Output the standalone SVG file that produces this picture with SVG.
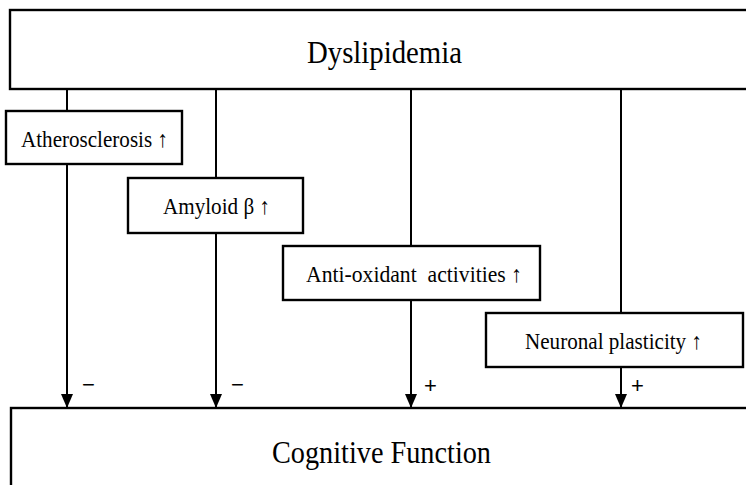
<svg xmlns="http://www.w3.org/2000/svg" width="746" height="485" viewBox="0 0 746 485">
<style>
.box{fill:#fff;stroke:#000;stroke-width:2.4}
.ln{stroke:#000;stroke-width:2;fill:none}
.big{font-family:"Liberation Serif",serif;font-size:32px;fill:#000}
.sm{font-family:"Liberation Serif","DejaVu Serif",serif;font-size:23px;fill:#000;opacity:0.99}
.sign{font-family:"Liberation Sans",sans-serif;font-size:22px;fill:#000}
</style>
<defs>
<marker id="ah" markerWidth="14" markerHeight="12" refX="14" refY="6" orient="auto" markerUnits="userSpaceOnUse" viewBox="0 0 14 12">
<path d="M0,0 L14,6 L0,12 Z" fill="#000"/>
</marker>
</defs>
<g id="dyslipidemia"><rect class="box" x="10" y="10" width="745" height="79"/><text class="big" x="307" y="63" textLength="155" lengthAdjust="spacingAndGlyphs">Dyslipidemia</text></g>
<g id="cognitive"><rect class="box" x="11" y="408" width="745" height="90"/><text class="big" x="272" y="463" textLength="219" lengthAdjust="spacingAndGlyphs">Cognitive Function</text></g>
<g id="connectors">
<line class="ln" x1="67" y1="89" x2="67" y2="111"/>
<line class="ln" x1="67" y1="164" x2="67" y2="408" marker-end="url(#ah)"/>
<line class="ln" x1="216" y1="89" x2="216" y2="178"/>
<line class="ln" x1="216" y1="233" x2="216" y2="408" marker-end="url(#ah)"/>
<line class="ln" x1="411" y1="89" x2="411" y2="246"/>
<line class="ln" x1="411" y1="300" x2="411" y2="408" marker-end="url(#ah)"/>
<line class="ln" x1="621" y1="89" x2="621" y2="313"/>
<line class="ln" x1="621" y1="367" x2="621" y2="408" marker-end="url(#ah)"/>
<text class="sign" x="82" y="392">−</text>
<text class="sign" x="231" y="392">−</text>
<text class="sign" x="424" y="393">+</text>
<text class="sign" x="631" y="393">+</text>
</g>
<g id="atherosclerosis"><rect class="box" x="6" y="111" width="176" height="53"/><text class="sm" x="21" y="147" textLength="147" lengthAdjust="spacingAndGlyphs">Atherosclerosis ↑</text></g>
<g id="amyloid"><rect class="box" x="128" y="178" width="175" height="55"/><text class="sm" x="163" y="214" textLength="107" lengthAdjust="spacingAndGlyphs">Amyloid β ↑</text></g>
<g id="antioxidant"><rect class="box" x="283" y="246" width="257" height="54"/><text class="sm" x="306" y="282" xml:space="preserve" textLength="216" lengthAdjust="spacingAndGlyphs">Anti-oxidant  activities ↑</text></g>
<g id="neuronal"><rect class="box" x="486" y="313" width="257" height="54"/><text class="sm" x="525" y="349" textLength="177" lengthAdjust="spacingAndGlyphs">Neuronal plasticity ↑</text></g>
</svg>
